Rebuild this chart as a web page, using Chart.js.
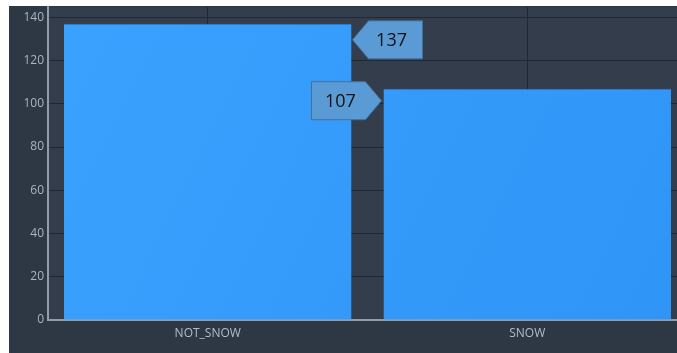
<!DOCTYPE html>
<html lang="en">
<head>
    <meta charset="UTF-8">
    <title>Snow Counts</title>
    <script src="https://cdn.jsdelivr.net/npm/chart.js"></script>
    <style>
        html, body {
            margin: 0;
            padding: 0;
            background: #ffffff;
            overflow: hidden;
        }
        .panel {
            position: absolute;
            left: 9px;
            top: 6px;
            width: 690px;
            height: 347px;
            background: #2e3744;
        }
        /* chart.js keeps ~10px above the plot for the top tick label, pull it up into the panel edge */
        #snowChart {
            position: absolute;
            left: 0;
            top: -10px;
        }
    </style>
</head>
<body>
    <div class="panel">
        <canvas id="snowChart" width="690" height="357"></canvas>
    </div>

    <script>
        // Data
        const categories = ['NOT_SNOW', 'SNOW'];
        const counts = [137, 107];
        const yTicks = [0, 20, 40, 60, 80, 100, 120, 140];
        const yMax = 144.7;

        // Plot area is a touch lighter than the outer panel
        const plotBackground = {
            id: 'plotBackground',
            beforeDraw(chart) {
                const { ctx, chartArea: a } = chart;
                ctx.save();
                ctx.fillStyle = '#333d4b';
                ctx.fillRect(a.left, a.top, a.right - a.left, a.bottom - a.top);
                ctx.restore();
            }
        };

        // Office style callouts with an arrow pointing at the bar
        const callouts = {
            id: 'callouts',
            afterDatasetsDraw(chart) {
                const ctx = chart.ctx;
                const meta = chart.getDatasetMeta(0);
                meta.data.forEach((bar, i) => {
                    const half = bar.width / 2;
                    const boxW = 54, boxH = 38, arrow = 16;
                    let tipX, tipY, pts;
                    if (i === 0) {
                        tipX = bar.x + half + 1;
                        tipY = bar.y + 16;
                        pts = [
                            [tipX, tipY],
                            [tipX + arrow, tipY - boxH / 2],
                            [tipX + arrow + boxW, tipY - boxH / 2],
                            [tipX + arrow + boxW, tipY + boxH / 2],
                            [tipX + arrow, tipY + boxH / 2]
                        ];
                    } else {
                        tipX = bar.x - half - 2;
                        tipY = bar.y + 12;
                        pts = [
                            [tipX, tipY],
                            [tipX - arrow, tipY + boxH / 2],
                            [tipX - arrow - boxW, tipY + boxH / 2],
                            [tipX - arrow - boxW, tipY - boxH / 2],
                            [tipX - arrow, tipY - boxH / 2]
                        ];
                    }
                    ctx.save();
                    ctx.beginPath();
                    pts.forEach((p, k) => k ? ctx.lineTo(p[0], p[1]) : ctx.moveTo(p[0], p[1]));
                    ctx.closePath();
                    ctx.fillStyle = '#5b9bd5';
                    ctx.fill();
                    ctx.lineWidth = 1;
                    ctx.strokeStyle = '#41719c';
                    ctx.stroke();
                    ctx.fillStyle = '#111111';
                    ctx.font = '18px "Open Sans", sans-serif';
                    ctx.textAlign = 'center';
                    ctx.textBaseline = 'middle';
                    const cx = i === 0 ? tipX + arrow + boxW / 2 - 4 : tipX - arrow - boxW / 2 + 2;
                    ctx.fillText(String(counts[i]), cx, tipY + 1);
                    ctx.restore();
                });
            }
        };

        new Chart(document.getElementById('snowChart'), {
            type: 'bar',
            data: {
                labels: categories,
                datasets: [{
                    data: counts,
                    backgroundColor: (c) => {
                        const area = c.chart.chartArea;
                        if (!area) return '#3399ff';
                        const g = c.chart.ctx.createLinearGradient(area.left, area.top, area.right, area.bottom);
                        g.addColorStop(0, '#3ca2ff');
                        g.addColorStop(1, '#2e94f6');
                        return g;
                    },
                    borderColor: '#2a7fd0',
                    borderWidth: { top: 1, left: 0, right: 0, bottom: 0 },
                    categoryPercentage: 1,
                    barPercentage: 0.9
                }]
            },
            options: {
                responsive: false,
                animation: false,
                layout: {
                    padding: { left: 0, right: 12, top: 0, bottom: 0 }
                },
                plugins: {
                    legend: { display: false },
                    tooltip: { enabled: false }
                },
                scales: {
                    x: {
                        grid: {
                            offset: false,
                            color: '#202833',
                            lineWidth: 1,
                            drawTicks: false
                        },
                        border: { color: '#8e9db0', width: 2 },
                        ticks: {
                            color: '#b4becb',
                            font: { family: '"Open Sans", sans-serif', size: 12 },
                            padding: 6
                        },
                        afterFit(scale) { scale.height = 33; }
                    },
                    y: {
                        min: 0,
                        max: yMax,
                        afterBuildTicks(scale) {
                            scale.ticks = yTicks.map(v => ({ value: v }));
                        },
                        grid: {
                            color: '#202833',
                            lineWidth: 1,
                            drawTicks: false
                        },
                        border: { color: '#8e9db0', width: 2 },
                        ticks: {
                            color: '#aab4c2',
                            font: { family: '"Open Sans", sans-serif', size: 12 },
                            padding: 4
                        },
                        afterFit(scale) { scale.width = 39; }
                    }
                }
            },
            plugins: [plotBackground, callouts]
        });
    </script>
</body>
</html>
